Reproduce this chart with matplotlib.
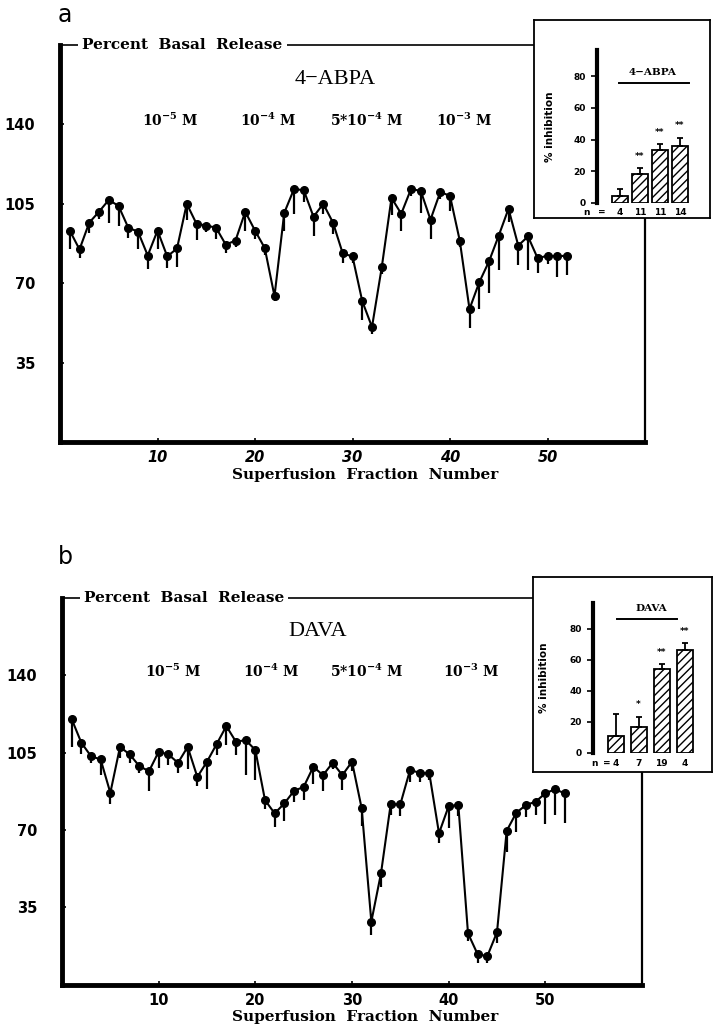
import numpy as np
import matplotlib
matplotlib.use('Agg')
import matplotlib.pyplot as plt

plt.rcParams['mathtext.default'] = 'regular'
plt.rcParams['hatch.linewidth'] = 1.0

# superfusion fractions 1..52, percent basal release (mean) and lower SEM
abpa_mean = [93.2, 84.9, 96.7, 101.5, 106.7, 104.1, 94.5, 92.7, 82.2, 93.2,
             81.8, 85.3, 105.0, 96.2, 95.4, 94.5, 87.0, 88.8, 101.5, 93.2,
             85.5, 64.3, 101.0, 111.5, 111.0, 99.3, 105.0, 96.7, 83.1, 81.8,
             62.1, 50.7, 77.0, 107.6, 100.6, 111.5, 110.7, 98.0, 110.2, 108.5,
             88.8, 58.6, 70.4, 79.6, 91.0, 102.8, 86.6, 90.6, 80.9, 82.2, 81.8, 82.2]
abpa_sem = [8, 4, 4.4, 3, 10, 8.8, 4.7, 7.6, 6, 8,
            5, 8, 7, 7, 3, 5, 3.7, 3, 8.4, 3.7,
            3, 2, 8, 11, 5, 8.4, 4.4, 5, 4.4, 3,
            8.4, 3, 3, 7.4, 7.4, 3, 9.6, 8.4, 3, 6.6,
            3, 8.4, 11.8, 13.7, 15, 6, 8.4, 15, 6.6, 3.7, 9.2, 8.8]

dava_mean = [120.2, 109.5, 103.4, 101.9, 86.8, 107.6, 104.2, 98.9, 96.6, 105.4,
             104.2, 100.4, 107.6, 94.0, 100.9, 108.9, 117.0, 109.9, 110.7, 106.2,
             83.5, 77.5, 82.0, 87.7, 89.5, 98.6, 94.8, 100.4, 94.8, 100.9,
             79.8, 28.5, 50.4, 81.6, 81.6, 97.1, 95.9, 95.6, 68.5, 80.8,
             81.3, 23.2, 13.7, 12.9, 23.7, 69.6, 77.8, 81.3, 82.8, 86.6, 88.4, 86.6]
dava_sem = [12.5, 5, 3, 7, 5, 5, 4, 3, 9, 7.5,
            5, 4.5, 10, 4, 12.5, 5, 8.6, 6, 16, 13.5,
            4, 6, 8, 5, 6, 8, 7, 3, 6.5, 4,
            8, 6, 6, 5, 5.5, 5.3, 4, 3, 4.5, 10,
            5, 3.6, 4, 3, 5, 9.5, 8.6, 5.3, 6, 14, 11.6, 13.6]

conc_labels = ['10$^{-5}$ M', '10$^{-4}$ M', '5*10$^{-4}$ M', '10$^{-3}$ M']
abpa_conc_x = [11.3, 21.4, 31.4, 41.5]
dava_conc_x = [11.5, 21.6, 31.5, 42.3]

# % inhibition bar insets
abpa_inh = [4.4, 18.5, 33.7, 36.2]
abpa_inh_sem = [4.6, 3.6, 3.4, 5.0]
abpa_n = ['4', '11', '11', '14']
abpa_stars = ['', '**', '**', '**']

dava_inh = [11.0, 16.3, 53.8, 66.2]
dava_inh_sem = [14.0, 7.0, 3.2, 4.7]
dava_n = ['4', '7', '19', '4']
dava_stars = ['', '*', '**', '**']

W, H = 713, 1029
fig = plt.figure(figsize=(W / 100, H / 100), dpi=100)

def px(x0, y0, x1, y1):
    return [x0 / W, 1 - y1 / H, (x1 - x0) / W, (y1 - y0) / H]

serif_b = dict(family='DejaVu Serif', weight='bold')


def main_panel(rect, mean, sem, title, title_x, conc_x, letter, letter_xy, xstyle):
    ax = fig.add_axes(rect)
    x = np.arange(1, len(mean) + 1)
    ax.errorbar(x, mean, yerr=[sem, np.zeros(len(sem))], fmt='none',
                ecolor='black', elinewidth=1.6, capsize=0)
    ax.plot(x, mean, '-o', color='black', lw=1.5, ms=5.5)
    ax.set_xlim(0, 60)
    ax.set_ylim(0, 175)
    ax.set_xticks([10, 20, 30, 40, 50])
    ax.set_yticks([35, 70, 105, 140])
    ax.tick_params(direction='in', length=3, width=1.2)
    ax.tick_params(axis='y', pad=18, labelsize=10.5)
    ax.tick_params(axis='x', pad=6, labelsize=10.5)
    for lab in ax.get_yticklabels():
        lab.set_fontweight('bold')
    for lab in ax.get_xticklabels():
        lab.set_fontweight('bold')
        lab.set_fontstyle(xstyle)
    ax.spines['left'].set_linewidth(3.5)
    ax.spines['bottom'].set_linewidth(3.5)
    ax.spines['top'].set_linewidth(1.2)
    ax.spines['right'].set_linewidth(1.6)

    ax.set_xlabel('Superfusion  Fraction  Number', fontsize=11, **serif_b)
    ax.xaxis.set_label_coords(0.522, -0.065)
    ax.text(0.038, 1.0, 'Percent  Basal  Release', transform=ax.transAxes,
            ha='left', va='center', fontsize=11, **serif_b,
            bbox=dict(facecolor='white', edgecolor='none', pad=3))
    ax.text(title_x, 160, title, ha='center', va='center', fontsize=16,
            family='Liberation Serif')
    for cx, lab in zip(conc_x, conc_labels):
        ax.text(cx, 142, lab, ha='center', va='center', fontsize=10, **serif_b)
    fig.text(letter_xy[0] / W, 1 - letter_xy[1] / H, letter, fontsize=17,
             ha='center', va='center')
    return ax


def inset(box, inner, xlim, vals, sems, ns, stars, label, label_xy, line_x, line_y,
          n_x, eq_x, n_y, ylab_x, width):
    axb = fig.add_axes(box)
    axb.set_xticks([])
    axb.set_yticks([])
    for s in axb.spines.values():
        s.set_linewidth(1.3)

    ax = fig.add_axes(inner)
    ax.set_facecolor('none')
    pos = np.arange(1, len(vals) + 1)
    ax.bar(pos, vals, width, color='white', edgecolor='black', hatch='////', lw=1.3)
    ax.errorbar(pos, vals, yerr=[np.zeros(len(sems)), sems], fmt='none',
                ecolor='black', elinewidth=1.3, capsize=2.5, capthick=1.3)
    for p, v, s, st in zip(pos, vals, sems, stars):
        if st:
            ax.text(p, v + s + 7.5, st, ha='center', va='center', fontsize=6.5,
                    fontweight='bold')
    for p, n in zip(pos, ns):
        ax.text(p, n_y, n, ha='center', va='center', fontsize=6.5, fontweight='bold',
                clip_on=False)
    ax.text(n_x, n_y, 'n', ha='center', va='center', fontsize=6.5, fontweight='bold',
            clip_on=False)
    ax.text(eq_x, n_y, '=', ha='center', va='center', fontsize=6.5, fontweight='bold',
            clip_on=False)
    ax.text(label_xy[0], label_xy[1], label, ha='center', va='center', fontsize=7.5,
            **serif_b)
    ax.plot(line_x, [line_y, line_y], color='black', lw=1.4, clip_on=False)

    ax.set_xlim(*xlim)
    ax.set_ylim(0, 96.5)
    ax.set_yticks([0, 20, 40, 60, 80])
    ax.set_xticks([])
    ax.tick_params(axis='y', direction='out', length=4, width=1.2, pad=4, labelsize=6.5)
    for lab in ax.get_yticklabels():
        lab.set_fontweight('bold')
    ax.spines['left'].set_linewidth(3)
    for side in ['top', 'right', 'bottom']:
        ax.spines[side].set_visible(False)
    ax.set_ylabel('% inhibition', fontsize=7.5, fontweight='bold')
    ax.yaxis.set_label_coords(ylab_x, 0.5)


main_panel(px(60, 45, 645, 442), abpa_mean, abpa_sem, '4\u2212ABPA', 28.2,
           abpa_conc_x, 'a', (65, 15), 'italic')
inset(px(534, 20, 710, 218), px(597, 50, 694, 203), (-0.15, 4.7),
      abpa_inh, abpa_inh_sem, abpa_n, abpa_stars, '4\u2212ABPA', (2.65, 82),
      [0.95, 4.45], 75.7, -0.7, 0.1, -6, -0.43, 0.8)

main_panel(px(62, 598, 642, 984.6), dava_mean, dava_sem, 'DAVA', 26.5,
           dava_conc_x, 'b', (65, 557), 'normal')
inset(px(533, 577, 712, 772), px(592.7, 603, 700, 752.7), (0, 4.67),
      dava_inh, dava_inh_sem, dava_n, dava_stars, 'DAVA', (2.53, 93),
      [1.06, 3.67], 86, 0.1, 0.62, -7, -0.41, 0.7)

fig.savefig('out.png', dpi=100)
